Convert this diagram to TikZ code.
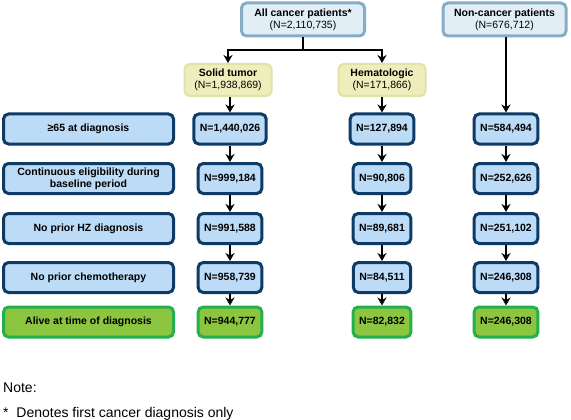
\documentclass[tikz,border=0pt]{standalone}
\usepackage{fontspec}
\setmainfont{Liberation Sans}
\usetikzlibrary{arrows.meta}
\definecolor{topfill}{HTML}{E2EEF5}
\definecolor{topdraw}{HTML}{86ADC8}
\definecolor{grpfill}{HTML}{EEEEBC}
\definecolor{grpdraw}{HTML}{E2E2A8}
\definecolor{stepfill}{HTML}{BCDBF6}
\definecolor{stepdraw}{HTML}{0E3A66}
\definecolor{endfill}{HTML}{8CC540}
\definecolor{enddraw}{HTML}{25B04B}
\tikzset{
  box/.style={rectangle, rounded corners=5pt, align=center, inner xsep=6pt, inner ysep=1pt,
    font=\fontsize{10.5}{12}\selectfont\bfseries},
  titlebox/.style={box, fill=topfill, draw=topdraw, line width=3pt, minimum width=123pt, minimum height=33pt},
  groupbox/.style={box, fill=grpfill, draw=grpdraw, line width=2pt, minimum width=87pt, minimum height=32pt},
  stepbox/.style={box, fill=stepfill, draw=stepdraw, line width=3pt, minimum height=30pt},
  endbox/.style={box, fill=endfill, draw=enddraw, line width=3pt, minimum height=30pt},
  arr/.style={-{Stealth[length=8pt,width=9pt]}, line width=2.2pt},
  note/.style={anchor=base west, inner sep=0pt, font=\fontsize{14}{16}\selectfont}
}
\begin{document}
\begin{tikzpicture}[x=1pt,y=-1pt]
    \useasboundingbox (0,0) rectangle (571,420);
    % top boxes
    \node [titlebox] (all) at (303,19.5) {All cancer patients*\\\mdseries(N=2,110,735)};
    \node [titlebox] (non) at (504.5,19.5) {Non-cancer patients\\\mdseries(N=676,712)};
    \node [groupbox] (solid) at (228,80) {Solid tumor\\\mdseries(N=1,938,869)};
    \node [groupbox] (hema) at (382,80) {Hematologic\\\mdseries(N=171,866)};
    % criteria on the left
    \node [stepbox, minimum width=170pt] (c1) at (88.5,129) {≥65 at diagnosis};
    \node [stepbox, minimum width=170pt] (c2) at (88.5,178.5) {Continuous eligibility during\\baseline period};
    \node [stepbox, minimum width=170pt] (c3) at (88.5,228.5) {No prior HZ diagnosis};
    \node [stepbox, minimum width=170pt] (c4) at (88.5,277.5) {No prior chemotherapy};
    \node [endbox, minimum width=170pt] (c5) at (88.5,322) {Alive at time of diagnosis};
    % solid tumor column
    \node [stepbox] (s1) at (230,129) {N=1,440,026};
    \node [stepbox] (s2) at (230,178.5) {N=999,184};
    \node [stepbox] (s3) at (230,228.5) {N=991,588};
    \node [stepbox] (s4) at (230,277.5) {N=958,739};
    \node [endbox] (s5) at (230,322) {N=944,777};
    % hematologic column
    \node [stepbox] (h1) at (382,129) {N=127,894};
    \node [stepbox] (h2) at (382,178.5) {N=90,806};
    \node [stepbox] (h3) at (382,228.5) {N=89,681};
    \node [stepbox] (h4) at (382,277.5) {N=84,511};
    \node [endbox] (h5) at (382,322) {N=82,832};
    % non-cancer column
    \node [stepbox] (n1) at (506,129) {N=584,494};
    \node [stepbox] (n2) at (506,178.5) {N=252,626};
    \node [stepbox] (n3) at (506,228.5) {N=251,102};
    \node [stepbox] (n4) at (506,277.5) {N=246,308};
    \node [endbox] (n5) at (506,322) {N=246,308};
    % arrows
    \coordinate (split) at (303,50);
    \draw [line width=2.2pt] (all.south) -- (split);
    \draw [arr] (split) -| (solid.north);
    \draw [arr] (split) -| (hema.north);
    \draw [arr] (solid.south -| s1.north) -- (s1.north);
    \draw [arr] (hema.south) -- (h1.north);
    \draw [arr] (non.south -| n1.north) -- (n1.north);
    \foreach \col in {s,h,n}{
      \draw [arr] (\col1) -- (\col2);
      \draw [arr] (\col2) -- (\col3);
      \draw [arr] (\col3) -- (\col4);
      \draw [arr] (\col4) -- (\col5);
    }
    % note
    \node [note] (notehead) at (3,392) {Note:};
    \node [note] (notetext) at (3,417) {*\ \ Denotes first cancer diagnosis only};
\end{tikzpicture}
\end{document}
